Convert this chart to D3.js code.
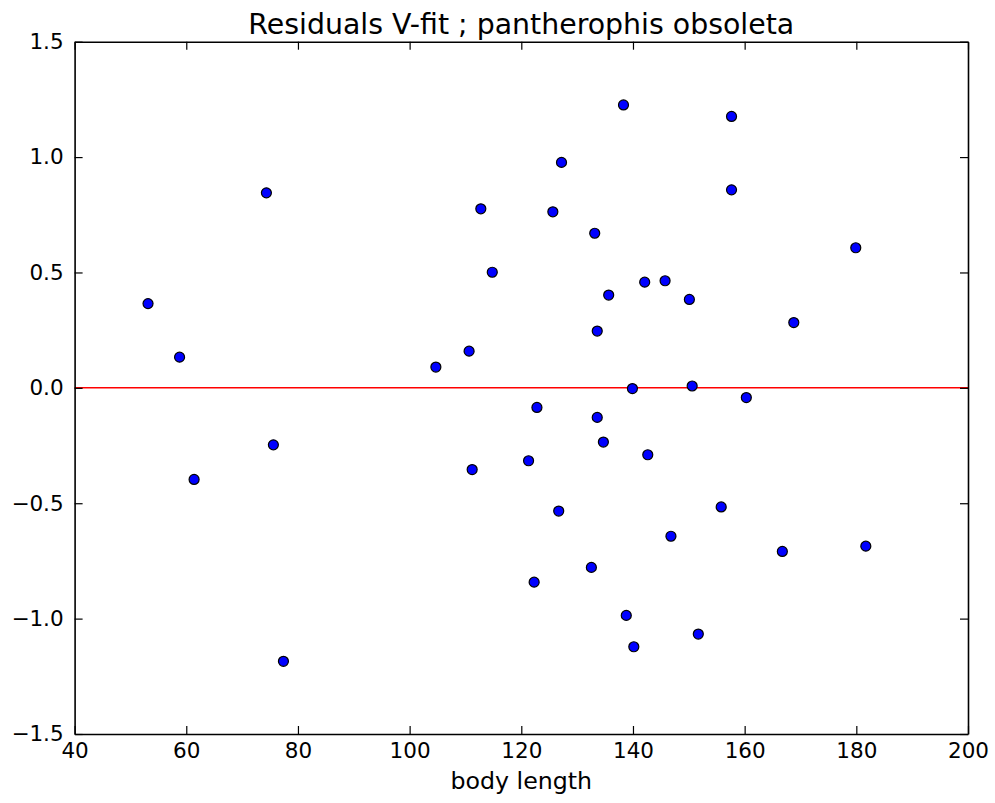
<!DOCTYPE html>
<html>
<head>
<meta charset="utf-8">
<script src="https://cdn.jsdelivr.net/npm/d3@7"></script>
<style>
  body { margin: 0; background: white; }
  text { font-family: "DejaVu Sans", sans-serif; fill: black; }
</style>
</head>
<body>
<div id="canvas"></div>
<script>
var w = 995;
var h = 803;

// residuals
var bodyLength = [53.15, 58.8, 61.4, 74.35, 75.6, 77.4, 104.7, 110.65, 111.2, 112.75,
                  114.8, 121.3, 122.3, 122.8, 125.65, 126.7, 127.2, 132.55, 133.15, 133.6,
                  133.6, 134.7, 135.65, 138.3, 138.8, 139.9, 140.15, 142.1, 142.65, 145.75,
                  146.8, 150.1, 150.6, 151.7, 155.8, 157.65, 157.65, 160.3, 166.75, 168.8,
                  179.9, 181.7];
var residuals = [0.365, 0.133, -0.397, 0.845, -0.247, -1.185, 0.090, 0.159, -0.354, 0.776,
                 0.501, -0.316, -0.842, -0.085, 0.763, -0.534, 0.977, -0.778, 0.670, 0.246,
                 -0.128, -0.235, 0.402, 1.226, -0.986, -0.003, -1.122, 0.458, -0.290, 0.464,
                 -0.643, 0.383, 0.008, -1.067, -0.516, 1.176, 0.858, -0.042, -0.709, 0.283,
                 0.607, -0.686];
var xTicks = [40, 60, 80, 100, 120, 140, 160, 180, 200];
var yTicks = [-1.5, -1.0, -0.5, 0.0, 0.5, 1.0, 1.5];

var margin = {left: 74.6, right: 27, top: 41.7, bottom: 69};

var xScale = d3.scaleLinear()
               .domain([40, 200])
               .range([margin.left, w - margin.right]);

var yScale = d3.scaleLinear()
               .domain([-1.5, 1.5])
               .range([h - margin.bottom, margin.top]);

var canvas = d3.select("#canvas")
               .append("svg")
               .attr("width", w)
               .attr("height", h)
               .style("background-color", "white");

// axes, ticks pointing inward on all four sides
var tickLen = 8;

var xAxis = d3.axisBottom(xScale).tickValues(xTicks).tickFormat(d3.format("d"))
              .tickSizeInner(-tickLen).tickSizeOuter(0).tickPadding(9);
var yAxis = d3.axisLeft(yScale).tickValues(yTicks).tickFormat(d3.format(".1f"))
              .tickSizeInner(-tickLen).tickSizeOuter(0).tickPadding(11);
var xTop = d3.axisTop(xScale).tickValues(xTicks).tickFormat("")
              .tickSizeInner(-tickLen).tickSizeOuter(0);
var yRight = d3.axisRight(yScale).tickValues(yTicks).tickFormat("")
              .tickSizeInner(-tickLen).tickSizeOuter(0);

// zero line
canvas.append("line")
    .attr("x1", xScale(40))
    .attr("x2", xScale(200))
    .attr("y1", yScale(0))
    .attr("y2", yScale(0))
    .attr("stroke", "red")
    .attr("stroke-width", 1.5);

canvas.selectAll("circle")
    .data(bodyLength)
    .join("circle")
    .attr("cx", d => xScale(d))
    .attr("cy", (d, i) => yScale(residuals[i]))
    .attr("r", 5)
    .attr("fill", "blue")
    .attr("stroke", "black")
    .attr("stroke-width", 1.2);

var gx = canvas.append("g")
    .attr("transform", `translate(0, ${h - margin.bottom})`)
    .call(xAxis);
var gy = canvas.append("g")
    .attr("transform", `translate(${margin.left}, 0)`)
    .call(yAxis);
var gt = canvas.append("g")
    .attr("transform", `translate(0, ${margin.top})`)
    .call(xTop);
var gr = canvas.append("g")
    .attr("transform", `translate(${w - margin.right}, 0)`)
    .call(yRight);

[gx, gy, gt, gr].forEach(function (g) {
    g.select(".domain").attr("stroke", "black").attr("stroke-width", 1.6);
    g.selectAll(".tick line").attr("stroke", "black").attr("stroke-width", 1.2);
    g.selectAll(".tick text")
        .style("font-family", "DejaVu Sans")
        .style("font-size", "21.5px")
        .attr("fill", "black");
});

canvas.append("text")
    .attr("text-anchor", "middle")
    .attr("x", (xScale(40) + xScale(200)) / 2)
    .attr("y", 34)
    .style("font-size", "28.4px")
    .text("Residuals V-fit ; pantherophis obsoleta");

canvas.append("text")
    .attr("text-anchor", "middle")
    .attr("x", (xScale(40) + xScale(200)) / 2)
    .attr("y", 789)
    .style("font-size", "23.7px")
    .text("body length");
</script>
</body>
</html>
